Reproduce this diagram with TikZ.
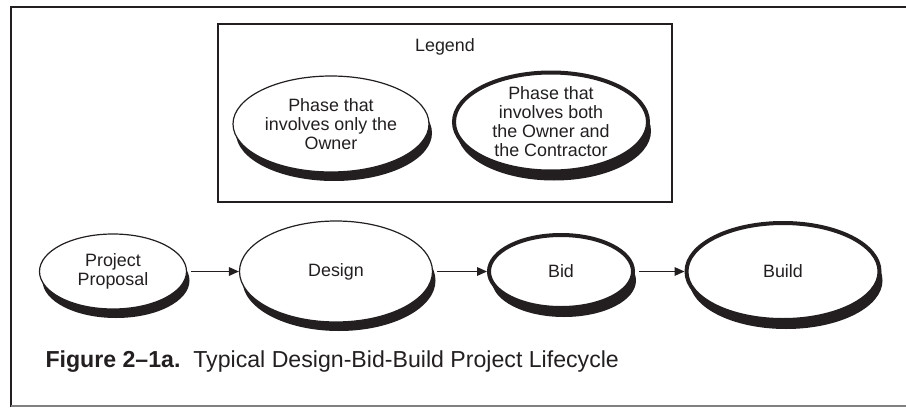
\documentclass[tikz,border=0pt]{standalone}
\usepackage{fontspec}
\setmainfont{Liberation Sans}
\usetikzlibrary{shapes.geometric,shadows,arrows.meta}

\definecolor{inkgray}{RGB}{35,31,32}

\tikzset{every picture/.style={line width=0.75pt}}
\tikzset{
  phase/.style={ellipse, draw=inkgray, fill=white, inner sep=0pt, text=inkgray, align=center,
    font=\fontsize{13.4}{14.25}\selectfont,
    drop shadow={shadow xshift=2.25pt, shadow yshift=-6.75pt, fill=inkgray, opacity=1}},
  owneronly/.style={phase, line width=0.9pt},
  ownercontractor/.style={phase, line width=3pt},
  flowarrow/.style={draw=inkgray, line width=0.9pt, -{Triangle[length=7.5pt,width=6.5pt]}, shorten <=3pt},
}

\begin{document}
\begin{tikzpicture}[x=0.75pt,y=0.75pt,yscale=-1,xscale=1]
	\useasboundingbox (0,0) rectangle (906,407);

	%Straight Lines: frame
	\draw [draw=inkgray, line width=1.6pt] (906,7) -- (11,7) -- (11,407) ;
	\draw [draw=gray, line width=0.9pt] (11,406) -- (906,406) ;

	%Shape: Rectangle (legend box)
	\draw [draw=inkgray, line width=0.8pt] (218,24) rectangle (672,202) ;
	% Text Node
	\draw (445,47) node [text=inkgray, font=\fontsize{13.4}{14.25}\selectfont] (legend) {Legend};

	%Shape: Ellipse (legend entries)
	\draw (331,124) node [owneronly, minimum width=147pt, minimum height=72pt] (onlyowner) {Phase that\\involves only the\\Owner};
	\draw (551,122) node [ownercontractor, minimum width=145.5pt, minimum height=74.25pt, inner ysep=-3pt] (bothparties) {Phase that\\involves both\\the Owner and\\the Contractor};

	%Shape: Ellipse (lifecycle phases)
	\draw (113,271.5) node [owneronly, minimum width=110.25pt, minimum height=56.25pt] (proposal) {Project\\Proposal};
	\draw (336,271.5) node [owneronly, minimum width=144.75pt, minimum height=75.75pt] (design) {Design};
	\draw (561,271.5) node [ownercontractor, minimum width=108pt, minimum height=54.75pt] (bid) {Bid};
	\draw (783,271.5) node [ownercontractor, minimum width=144.75pt, minimum height=72.75pt] (build) {Build};

	%Straight Lines: arrows
	\draw [flowarrow] (proposal) -- (design) ;
	\draw [flowarrow] (design) -- (bid) ;
	\draw [flowarrow] (bid) -- (build) ;

	% Text Node
	\draw (45,362) node [anchor=west, inner sep=0pt, text=inkgray, font=\fontsize{17.35}{20}\selectfont] (caption) {\textbf{Figure 2–1a.}\ \ Typical Design-Bid-Build Project Lifecycle};

\end{tikzpicture}
\end{document}
